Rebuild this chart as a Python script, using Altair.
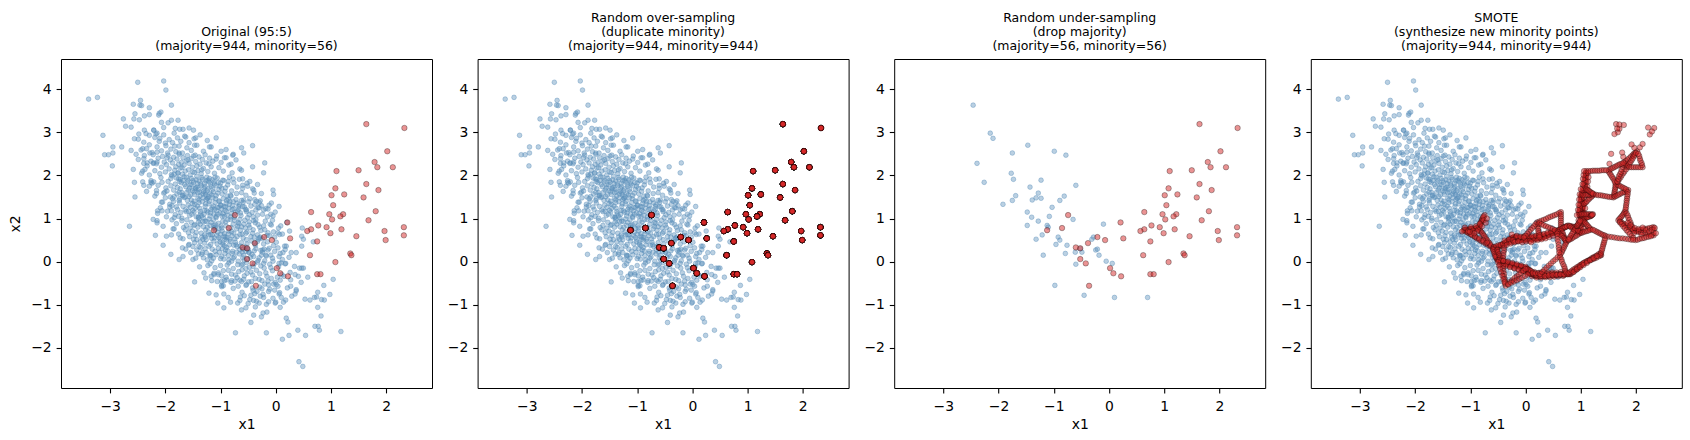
import altair as alt
import pandas as pd

# Point coordinates are stored in hundredths as "x1,x2" tokens.

# Minority class (56 points)
MINORITY = """
-74,108 -112,73 -85,78 -60,33 -52,31 -38,43 -52,6 -42,-4 -36,-56
164,319 233,310 202,256 179,231 184,219 212,219 110,210 150,212 164,180 108,170
186,166 101,154 124,156 159,149 104,131 64,115 181,117 97,110 122,110 117,105
102,98 168,96 21,91 77,84 92,80 64,75 57,71 99,66 119,75 197,71
232,80 232,61 26,54 -7,50 146,59 75,47 199,50 -21,57 62,15 135,19
137,15 2,-15 8,-27 108,-1 22,-34 75,-29 81,-29
"""

# Majority points that survive random under-sampling (56 points)
MAJORITY_KEPT = """
-246,363 -215,298 -210,286 -239,228 -226,184 -147,270 -175,252 -99,256 -78,247 -177,205
-173,191 -123,189 -143,173 -60,177 -128,159 -169,153 -175,142 -192,133 -139,143 -132,148
-123,147 -81,152 -89,142 -103,126 -148,115 -140,103 -148,84 -128,94 -108,105 -112,84
-65,98 -121,62 -132,52 -92,57 -89,50 -96,40 -76,38 -61,22 -49,22 -79,19
-119,15 -60,-6 -98,-55 -45,-78 -10,87 -28,57 -31,52 -21,29 -18,15 -5,1
6,-4 10,-83 70,-83 -110,80 -52,30 -24,27
"""

# Remaining majority points: sparse fringe of the cloud
MAJORITY_FRINGE = """
-250,416 -203,419 -199,398 -339,377 -323,381 -245,374 -258,365 -243,362 -229,357 -189,363
-229,341 -212,340 -211,344 -276,331 -257,331 -272,314 -207,323 -203,311 -189,328 -313,293
-248,296 -238,305 -229,293 -221,305 -217,296 -256,285 -239,277 -279,266 -295,266 -295,252
-310,248 -303,248 -296,222 -253,249 -244,259 -234,262 -228,252 -215,254 -239,239 -233,229
-241,210 -237,214 -222,228 -215,231 -256,184 -241,185 -239,177 -224,182 -221,185 -216,165
-255,150 -201,161 -207,138 -214,118 -206,118 -222,98 -215,95 -189,118 -188,97
-265,82 -215,90 -204,82 -186,76 -218,61 -198,59 -204,38 -190,17
-177,328 -174,307 -168,307 -157,310 -149,305 -108,287 -145,287 -163,289 -120,266 -90,260
-62,264 -42,269 -58,252 -77,249 -93,241 -20,229 -42,220 -22,206 -62,212 -81,226
-5,166 -4,156 -60,192 -51,175 -42,169 -39,159 -30,125 -14,122 -5,106 -35,140
-53,120 -67,128 -58,143
-175,5 -147,-47 -121,-73 -108,-77 -94,-75 -105,-96 -82,-94 -94,-107 -73,-165 -17,-165
-54,-107 -40,-124 -23,-119 -16,-117 -30,-96 -40,-90 -37,-105 -13,-93 -1,-96 -65,-90
-57,-79 -28,-80 -22,-83 -169,32 -168,53 -157,40 -150,35 -136,33 -133,21 -123,-9
-117,-34 -112,-30 -104,-26 -95,-56 -98,-46 -89,-42 -80,-44 -68,-57 -62,-46 -53,-53
-42,-61 -34,-69 -25,-63 -13,-69 -13,-54 -4,-52 -117,14
24,-171 40,-159 54,-171 42,-232 49,-243 19,-131 22,-140 71,-150 79,-159 12,-180
77,-150 118,-162 82,-126 76,-106 53,-87 62,-89 74,-82 83,-88 88,-89 98,-76
76,-71 87,-55 104,-41 58,-36 41,-34 46,-48 37,-65 35,-75 27,-57 6,-75
0,-94 18,-89 47,-15 50,-15 43,-15 35,-30 27,-42 17,-5 15,-34 4,-57
68,46 47,36 47,59 50,52 25,71 48,78 7,63 4,67 19,36 17,28
13,21 28,21 37,21 10,-3 34,-11
"""

# Remaining majority points: dense core of the cloud, banded by x2
MAJORITY_CORE = """
-262,312 -238,338 -221,305 -208,347 -195,322 -247,329 -182,309 -255,343
-262,258 -249,284 -241,262 -235,297 -229,271 -224,253 -219,288 -215,266 -211,279 -207,257
-203,294 -199,269 -196,252 -193,283 -190,261 -187,276 -184,298 -181,255 -178,287 -175,268
-172,279 -169,252 -165,291 -161,264 -157,276 -153,258 -148,285 -143,270 -137,294 -131,256
-124,281 -117,266 -200,275 -183,268
-258,214 -249,237 -243,205 -238,246 -233,222 -229,201 -226,233 -222,248 -219,211 -216,227
-213,240 -210,204 -207,219 -205,244 -202,231 -200,208 -198,225 -195,247 -193,215 -191,236
-189,202 -187,229 -185,242 -183,212 -181,220 -179,238 -177,206 -175,249 -173,217 -171,230
-169,203 -168,241 -166,224 -164,210 -162,234 -160,246 -158,213 -157,228 -155,201 -153,239
-151,219 -149,245 -147,207 -145,232 -143,222 -141,211 -139,243 -137,226 -135,204 -133,237
-131,216 -128,248 -126,229 -123,209 -120,240 -117,220 -114,233 -111,205 -107,245 -103,218
-99,230 -95,210 -90,241 -85,224 -79,206 -72,236 -65,215 -221,229 -197,241 -184,203
-170,218 -159,236 -146,247 -134,213 -121,227 -108,238 -176,226 -150,208
-234,163 -226,188 -219,152 -213,177 -208,195 -203,159 -199,171 -195,186 -191,150 -188,199
-185,166 -182,180 -179,157 -176,192 -173,169 -171,183 -168,154 -166,197 -163,174 -161,161
-159,189 -157,151 -155,178 -153,193 -151,165 -149,184 -147,156 -145,171 -143,198 -141,160
-139,187 -137,152 -135,176 -133,191 -131,163 -129,181 -127,155 -125,196 -123,169 -121,185
-119,158 -117,174 -115,190 -113,162 -111,180 -108,153 -106,194 -103,167 -100,182 -97,157
-94,188 -91,171 -88,152 -84,196 -80,164 -76,183 -71,158 -66,191 -60,170 -54,154
-47,186 -40,166 -33,179 -26,158 -229,175 -216,158 -206,184 -197,164 -190,193 -184,151
-178,172 -174,186 -170,160 -165,179 -162,196 -158,166 -154,155 -150,188 -146,169 -142,181
-138,162 -134,195 -130,170 -126,187 -122,151 -118,179 -114,168 -110,196 -105,159 -101,175
-96,189 -92,163 -87,178 -82,154 -77,192 -70,173 -62,160 -52,182 -190,176 -175,161
-160,185 -148,162 -136,180 -124,164 -112,185 -98,170 -86,186 -156,171 -144,190 -132,157
-120,193 -108,176 -168,188 -152,178 -140,168 -128,174 -116,155 -104,184 -180,194 -164,150
-214,112 -205,138 -198,104 -192,127 -187,146 -182,109 -178,121 -174,136 -170,101 -166,149
-162,116 -159,131 -156,107 -153,143 -150,119 -147,133 -144,104 -141,147 -138,124 -136,111
-133,139 -131,101 -128,128 -126,144 -123,115 -121,134 -119,106 -117,121 -114,148 -112,110
-110,137 -108,102 -106,126 -103,141 -101,113 -99,131 -97,105 -95,146 -92,119 -90,135
-88,108 -85,124 -83,140 -80,112 -78,130 -75,103 -72,144 -69,117 -66,132 -63,107
-59,138 -55,121 -51,102 -47,146 -43,114 -38,133 -33,108 -28,141 -22,120 -15,104
-8,136 -1,115 6,128 -188,130 -172,114 -155,126 -140,103 -125,118 -109,146 -94,128
-79,121 -60,128 -36,120 -209,125 -196,117 -185,140 -176,105 -168,128 -160,142 -152,110
-146,124 -139,137 -134,106 -129,119 -124,147 -118,113 -113,129 -107,118 -102,139 -96,111
-91,127 -86,145 -81,104 -76,123 -70,136 -64,113 -57,127 -49,139 -41,104 -32,125
-24,110 -12,131 -180,127 -164,120 -148,140 -137,116 -127,134 -115,125 -105,110 -98,122
-89,116 -77,139 -67,122 -53,116 -45,129 -30,137 -18,123 -200,148 -184,102 -158,117
-142,129 -130,110 -120,140 -111,121 -100,131 -93,105 -84,133 -73,114 -62,142 -48,109
-38,144 -26,130 -9,110 -174,146 -151,135
-189,62 -180,88 -173,55 -167,79 -161,97 -156,58 -151,71 -147,86 -143,51 -139,99
-135,66 -131,81 -128,57 -125,93 -122,69 -119,84 -116,54 -113,97 -110,74 -107,61
-104,89 -101,52 -98,78 -96,94 -93,65 -90,83 -88,56 -85,71 -82,98 -79,60
-77,87 -74,53 -71,76 -68,91 -65,63 -62,81 -59,55 -56,96 -52,69 -49,85
-45,58 -41,74 -37,90 -33,62 -29,80 -24,53 -19,94 -14,67 -8,85 -2,57
5,78 12,64 20,91 -164,74 -146,60 -132,93 -118,63 -103,77 -92,52 -80,70
-67,88 -54,66 -40,95 -27,72 -11,60 -184,76 -170,95 -158,67 -149,52 -141,80
-134,57 -127,74 -121,99 -115,62 -109,86 -103,56 -97,71 -91,92 -86,64 -81,79
-75,96 -70,58 -64,73 -58,87 -53,51 -47,79 -42,66 -36,97 -30,55 -22,83
-16,61 -6,96 -176,64 -162,84 -153,91 -144,68 -137,87 -129,62 -124,80 -117,91
-111,55 -105,68 -99,83 -94,59 -87,97 -83,52 -76,66 -69,82 -61,64 -55,78
-48,92 -39,57 -32,86 -20,74 -4,69 9,83 -155,78 -140,92 -126,51 -112,78
-100,64
-168,12 -158,38 -150,5 -143,27 -137,46 -131,9 -126,21 -121,36 -116,2 -112,48
-108,16 -104,31 -100,7 -96,43 -92,19 -89,33 -85,4 -82,47 -78,24 -75,11
-72,39 -68,1 -65,28 -62,44 -58,15 -55,34 -51,6 -48,21 -44,48 -40,12
-36,30 -32,3 -27,26 -22,41 -17,13 -12,31 -6,8 1,45 8,19 16,36
24,10 -140,18 -118,40 -102,22 -86,14 -70,35 -54,24 -38,43 -20,2 -2,24
-128,30 -94,6 -60,9 -163,29 -147,44 -134,17 -124,4 -115,29 -106,41 -98,12
-91,27 -84,39 -77,8 -71,22 -64,36 -57,3 -50,29 -43,17 -37,38 -30,9
-24,22 -15,46 -9,15 4,32 12,5 -154,21 -139,35 -129,43 -119,13 -110,24
-101,46 -93,37 -87,25 -80,1 -73,45 -66,18 -59,29 -52,41 -46,10 -39,25
-33,47 -26,15 -14,27 -4,37 6,12 -145,8 -113,8 -97,30
-138,-12 -127,-38 -119,-5 -112,-27 -106,-46 -100,-9 -95,-21 -90,-36 -85,-3 -81,-48
-77,-16 -73,-31 -69,-7 -65,-43 -61,-19 -57,-33 -53,-2 -49,-47 -45,-24 -41,-11
-37,-39 -33,-1 -29,-28 -25,-44 -21,-15 -16,-34 -11,-6 -6,-21 -1,-48 5,-12
11,-30 18,-4 26,-25 -130,-26 -110,-14 -93,-44 -80,-29 -67,-23 -54,-16 -42,-31
-30,-41 -18,-26 -8,-39 3,-36 -98,-33 -74,-45 -62,-8 -48,-13 -35,-20 -22,-4
-86,-20 -58,-41 -39,-5 -14,-45 -104,-30 -70,-37 -52,-27 -27,-10 -9,-14 -116,-44
-88,-8 -44,-46 8,-43
-98,-58 -86,-83 -77,-62 -69,-96 -61,-71 -54,-55 -47,-88 -41,-67 -35,-92 -29,-59
-23,-76 -17,-99 -11,-64 -5,-85 1,-53 7,-72 14,-94 21,-61 29,-80 37,-68
-64,-82 -38,-74 -20,-52 -2,-66 -50,-97
-62,-112 -26,-128 8,-106 -45,-141
"""

# Copies of each minority point after random over-sampling (same order as MINORITY)
OVERSAMPLE_COPIES = [
    17, 14, 19, 16, 21, 13, 18, 15, 17, 20,
    12, 16, 18, 19, 15, 17, 14, 22, 16, 13,
    18, 17, 15, 19, 16, 20, 14, 17, 18, 12,
    16, 21, 15, 17, 19, 14, 18, 16, 13, 20,
    17, 15, 18, 16, 19, 14, 17, 21, 16, 15,
    18, 16, 19, 20, 18, 18,
]

# New minority points created by SMOTE
SMOTE_SYNTHETIC = """
-110,73 -108,74 -106,74 -104,74 -102,75 -100,75 -98,76 -96,76 -94,76 -92,77 -90,77 -88,78 -87,78
-84,81 -83,84 -82,87 -81,90 -80,93 -79,96 -78,99 -77,102 -76,105
-108,70 -104,67 -100,64 -96,61 -92,58 -88,54 -84,51 -80,48 -76,45 -72,42 -68,39 -64,36
-83,74 -81,70 -79,67 -77,63 -75,60 -73,56 -71,52 -69,49 -67,45 -65,42 -63,38
-105,68 -98,63 -91,58 -84,54 -77,49 -70,44
-115,70 -110,79 -104,71 -99,80 -95,72 -90,82 -86,74 -83,88 -79,82 -76,96
-72,90 -70,100 -88,70 -93,66 -101,69
-58,33 -56,32 -54,32
-50,33 -48,35 -46,36 -44,38 -42,40 -40,41
-36,45 -34,46 -32,48 -30,50 -28,51 -26,53 -24,55 -22,56
-57,34 -53,36 -49,38 -45,39 -41,41
-52,28 -52,25 -52,22 -52,19 -52,16 -52,13 -52,10 -52,8
-59,29 -58,26 -57,22 -56,18 -55,14 -54,11
-50,4 -48,2 -46,0 -44,-2
-51,27 -50,22 -48,17 -47,13 -46,9 -45,5 -44,1
-38,38 -39,32 -39,26 -40,20 -40,14 -41,8 -41,2
-19,56 -17,55 -15,54 -13,53 -11,52 -9,51
-34,44 -30,45 -26,46 -22,47 -18,47 -14,48 -10,49
-4,50 -1,51 2,51 5,52 8,52 11,52 14,53 17,53 20,53 23,54
-17,57 -13,56 -9,56 -5,56 -1,56 3,55 7,55 11,55 15,55 19,54 23,54
29,56 32,57 35,59 38,61 41,62 44,64 47,66 50,67 53,69
30,56 34,58 38,60 42,63 46,65 50,67 54,69 58,71 62,74
59,72 61,73
-2,52 4,54 10,56 16,58 22,60 28,62 34,63 40,65 46,67 52,69
-38,49 -34,39 -30,52 -27,42 -23,50 -20,45 -16,60 -13,47 -9,58 -6,45
-2,59 1,47 5,60 8,48 12,59 15,49 19,60 22,50 26,61 29,52
33,64 36,54 40,67 43,57 47,70 50,60 54,73 57,64 -25,63 10,45
22,86 22,81 23,76 23,71 24,66 25,61 25,57
18,87 15,82 12,78 9,74 6,69 3,65 0,60 -3,56
-38,-5 -34,-6 -30,-7 -26,-8 -22,-9 -18,-10 -14,-11 -10,-12 -6,-13 -2,-14
-48,4 -44,2 -40,1 -36,-1 -32,-3 -28,-4 -24,-6 -20,-7 -16,-9 -12,-10 -8,-12 -4,-13
-35,-7 -28,-11 -21,-14 -14,-17 -7,-21 0,-24 7,-27 14,-30
-40,2 -36,-10 -32,0 -28,-13 -24,-3 -20,-16 -16,-6 -12,-19 -8,-9 -4,-21
0,-12 4,-25 8,-20 12,-34 16,-24 20,-37 24,-26 28,-37 32,-24 36,-36
40,-25 44,-36 48,-25 52,-35 56,-25 60,-34 64,-24 68,-33 72,-24 -46,-8
3,-17 4,-20 5,-22 6,-24 7,-26
10,-28 12,-29 14,-30 16,-31 18,-32 20,-33
4,-17 7,-20 10,-22 13,-25 16,-28 19,-31
26,-34 30,-33 34,-33 38,-33 42,-32 46,-32 50,-32 54,-31 58,-31 62,-30 66,-30 70,-30 73,-29
13,-27 18,-27 23,-27 28,-28 33,-28 38,-28 43,-28 48,-28 53,-28 58,-29 63,-29 68,-29
77,-29 79,-29
28,-33 35,-33 42,-32 49,-31 56,-31 63,-30 70,-30 76,-29
26,-29 30,-24 34,-19 38,-14 42,-9 46,-4 50,1 54,5 58,10
-41,-10 -41,-16 -40,-22 -39,-28 -39,-34 -38,-40 -37,-46 -37,-51
-50,-1 -48,-9 -46,-17 -44,-25 -42,-33 -40,-41 -38,-48
-32,-52 -28,-47 -24,-43 -20,-38 -16,-34 -12,-30 -8,-26 -4,-21 0,-17
-31,-53 -26,-49 -21,-46 -16,-43 -11,-40 -6,-37 -1,-33 4,-30
25,93 29,95 33,97 37,99 41,102 45,104 49,106 53,108 57,110 61,113
25,89 29,87 33,84 37,82 41,80 45,78 49,76 53,73
64,110 64,105 64,100 64,95 64,90 64,85 64,80
66,76 68,78 70,79 72,81 74,82
60,73 63,75 66,77 69,79 72,80 75,82
80,83 83,82 86,81 89,81
93,77 95,74 96,71 98,68
80,82 83,79 86,77 89,74 92,72 95,69
65,71 67,67 68,63 69,59 71,55 72,51
59,68 62,64 64,61 66,59 69,55 71,52 73,49
73,43 72,39 70,35 69,31 67,27 66,23 64,19
96,64 93,61 90,59 87,57 84,54 81,52 78,50
57,65 58,59 58,52 59,46 60,39 60,33 61,27 61,21
90,76 88,72 86,68 84,64 82,60 80,56 78,52
63,10 65,5 66,0 68,-6 70,-11 71,-16 72,-21 74,-25
84,-26 87,-23 90,-20 93,-17 96,-14 99,-10 102,-7 105,-4
78,-26 81,-24 84,-21 87,-18 90,-16 93,-13 96,-11 99,-8 102,-6 105,-3
111,1 114,3 117,5 120,8 123,10 126,12 129,14 132,17
112,1 116,3 120,5 124,7 128,9 132,12 135,14
136,17
87,-24 93,-18 99,-13 105,-8 111,-3 117,3 123,8 129,13
99,70 100,74 100,78 100,82 101,86 101,90 101,94
101,100 100,103 99,105 98,108
102,102 102,106 103,110 103,114 103,118 103,122 104,126
98,113 99,116 100,119 101,122 102,125 103,128
104,134 103,137 103,140 102,143 102,146 102,149 101,152
97,115 98,120 98,125 99,130 99,135 100,140 100,145 101,150
102,156 103,158 104,161 105,163 106,165 107,168
108,174 108,178 109,182 109,186 109,190 109,194 109,198 110,202 110,206
102,159 103,165 104,171 105,177 106,183 107,188 108,194 109,200 109,205
95,72 105,76 94,84 106,88 96,96 107,100 93,108 106,113 95,120 108,124
96,132 107,136 97,144 106,148 98,156 110,160 100,168 112,174 103,180 113,186
104,192 114,196 105,201 113,206 106,210
104,99 106,100 108,101 110,102 112,103 114,104
100,110 103,110 106,110 109,110 112,110 115,110 118,110
118,106 119,107 120,108 121,109
104,95 106,92 108,90 110,87 112,84 114,81 116,78
102,67 105,69 108,70 111,71 114,72 117,74
106,134 109,137 111,140 114,144 116,147 119,150 121,153
104,154 107,154 110,155 113,155 116,155 119,156 122,156
110,168 112,166 114,165 116,163 118,161 120,159 122,158
93,83 95,86 96,89 98,92 99,95
128,155 132,154 136,154 140,153 144,152 148,151 152,150 156,150
160,153 161,157 161,161 162,165 162,169 163,173 163,177
162,151 165,153 168,155 171,157 174,159 177,161 180,162 183,164
167,178 170,176 173,174 176,172 179,170 182,168
151,208 153,204 155,200 157,196 159,192 161,188 162,184
167,185 169,190 172,195 174,200 177,205 179,209 182,214
166,186 168,192 169,198 171,203 173,208 174,214 176,220 177,225
183,222 182,225 181,228
182,234 185,237 188,240 191,244 194,247 196,250 199,253
186,223 188,227 190,231 192,235 194,239 196,244 198,248 200,252
207,265 212,273 225,295 229,302
197,264 192,272 170,308
177,243 175,253 167,300 166,309
153,214 156,216 159,218 162,220 165,222 168,224 171,226 174,227 177,229
114,210 118,210 122,211 126,211 130,211 134,211 138,212 142,212 146,212
188,219 192,219 196,219 200,219 204,219 208,219
211,224 210,229 208,234 207,239 206,245 204,250
152,227 155,250 161,296
170,318 178,317 222,311
185,161 185,156 184,151 184,146 183,141 183,136 182,131 182,126 181,121
179,114 178,111 176,108 174,105 172,102 170,99
183,112 185,107 186,102 188,97 190,91 191,86 193,81 195,76
171,93 174,91 177,88 180,86 183,83 186,80 189,78 192,76 195,73
201,72 205,73 209,74 213,75 217,76 221,77 225,78 229,79
201,70 205,69 209,68 213,67 217,66 221,65 225,63 229,62
232,74 232,67
185,90 190,84 198,78 205,76 212,79 218,73 224,70 229,74 234,78 236,66
210,62 196,66
203,51 207,53 211,54 215,55 219,57 223,58 227,59
171,91 174,87 177,82 180,78 183,73 186,69 189,64 192,59 195,55
151,58 156,57 161,56 166,55 171,54 176,54 181,53 186,52 191,51 195,51
137,21 138,26 139,30 140,35 141,40 142,44 143,49 144,54
143,61 140,62 137,64 134,66 131,68 128,70 125,72 122,74
"""


def to_frame(*blocks):
    rows = []
    for block in blocks:
        for tok in block.split():
            a, b = tok.split(",")
            rows.append((int(a) / 100, int(b) / 100))
    return pd.DataFrame(rows, columns=["x1", "x2"])


minority = to_frame(MINORITY)
majority = to_frame(MAJORITY_KEPT, MAJORITY_FRINGE, MAJORITY_CORE)
majority_under = to_frame(MAJORITY_KEPT)
minority_over = minority.loc[minority.index.repeat(OVERSAMPLE_COPIES)].reset_index(drop=True)
minority_smote = pd.concat([minority, to_frame(SMOTE_SYNTHETIC)], ignore_index=True)

X_DOMAIN = [-3.89, 2.83]
Y_DOMAIN = [-2.93, 4.70]
X_TICKS = [-3, -2, -1, 0, 1, 2]
Y_TICKS = [-2, -1, 0, 1, 2, 3, 4]
BLUE = "#5a8fba"
RED = "#d62728"
FONT = "DejaVu Sans"


def panel(lines, maj, mino, y_title):
    x = alt.X("x1:Q", scale=alt.Scale(domain=X_DOMAIN, nice=False, zero=False),
              axis=alt.Axis(values=X_TICKS, title="x1"))
    y = alt.Y("x2:Q", scale=alt.Scale(domain=Y_DOMAIN, nice=False, zero=False),
              axis=alt.Axis(values=Y_TICKS, title=y_title))
    blue = alt.Chart(maj).mark_circle(
        size=22, color=BLUE, opacity=1, fillOpacity=0.42,
        stroke=BLUE, strokeOpacity=0.42, strokeWidth=1,
    ).encode(x=x, y=y)
    red = alt.Chart(mino).mark_circle(
        size=30, color=RED, opacity=1, fillOpacity=0.5,
        stroke="black", strokeOpacity=0.5, strokeWidth=0.6,
    ).encode(x=x, y=y)
    return alt.layer(blue, red).properties(
        width=371, height=329, title=alt.TitleParams(text=lines)
    )


n_maj, n_min = len(majority), len(minority)
p1 = panel(["Original (95:5)", f"(majority={n_maj}, minority={n_min})"],
           majority, minority, "x2")
p2 = panel(["Random over-sampling", "(duplicate minority)",
            f"(majority={n_maj}, minority={len(minority_over)})"],
           majority, minority_over, "")
p3 = panel(["Random under-sampling", "(drop majority)",
            f"(majority={len(majority_under)}, minority={n_min})"],
           majority_under, minority, "")
p4 = panel(["SMOTE", "(synthesize new minority points)",
            f"(majority={n_maj}, minority={len(minority_smote)})"],
           majority, minority_smote, "")

chart = (
    alt.hconcat(p1, p2, p3, p4, spacing=45.6, bounds="flush")
    .properties(padding={"left": 8, "top": 11, "right": 5, "bottom": 5})
    .configure(background="white")
    .configure_view(stroke="black", strokeWidth=1)
    .configure_axis(
        domain=False, grid=False, tickColor="black", tickSize=4.9, tickWidth=1.1,
        labelFont=FONT, labelFontSize=13.9, labelColor="black",
        labelFlush=False, titleFont=FONT, titleFontSize=13.9,
        titleFontWeight="normal", titleColor="black",
    )
    .configure_axisX(labelPadding=6.5, titlePadding=4)
    .configure_axisY(labelPadding=4.9, titlePadding=8)
    .configure_title(
        font=FONT, fontSize=12.5, fontWeight="normal", color="black",
        lineHeight=14.4, baseline="bottom", offset=6, anchor="middle",
    )
)

chart.save("out.html", embed_options={"renderer": "svg", "actions": False})
